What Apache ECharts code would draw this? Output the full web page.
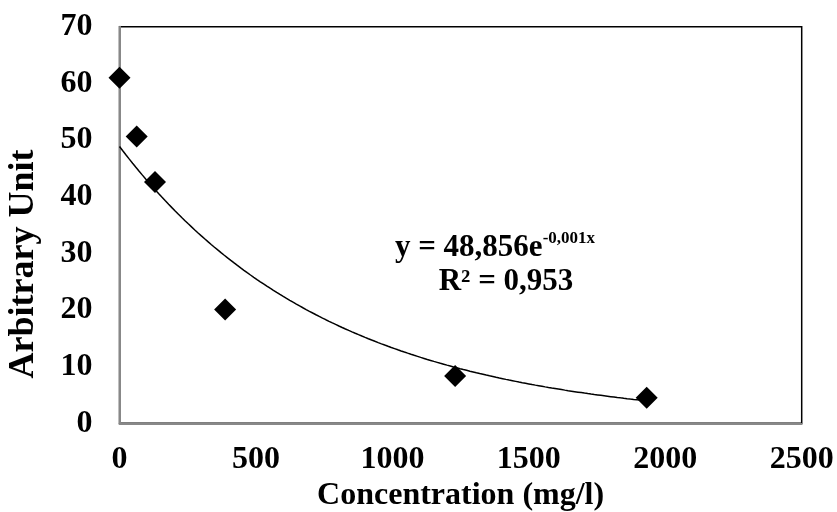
<!DOCTYPE html>
<html>
<head>
<meta charset="utf-8">
<script src="https://cdn.jsdelivr.net/npm/echarts@6/dist/echarts.min.js"></script>
<style>
  html, body { margin: 0; padding: 0; background: #fff; }
  #chart { width: 837px; height: 512px; }
</style>
</head>
<body>
<div id="chart"></div>
<script>
// Measured samples
const concentration = [0, 63, 130, 387, 1230, 1932];       // mg/l
const arbitraryUnit = [61.0, 50.6, 42.6, 20.1, 8.35, 4.5];

// Exponential trend y = A * e^(B x) and its goodness of fit
const trendA = 48.856;
const trendB = -0.0013;
const trendR2 = 0.953;

// Axis ticks
const xTicks = [0, 500, 1000, 1500, 2000, 2500];
const yTicks = [0, 10, 20, 30, 40, 50, 60, 70];

const FONT = '"Liberation Serif", "Times New Roman", serif';

// Trend curve sampled over the measured concentration range
const xMax = Math.max(...concentration);
const trendPoints = [];
for (let x = 0; x <= xMax; x += 12) {
  trendPoints.push([x, trendA * Math.exp(trendB * x)]);
}
trendPoints.push([xMax, trendA * Math.exp(trendB * xMax)]);

const fmt = (v, d) => v.toFixed(d).replace('.', ',');

const chart = echarts.init(document.getElementById('chart'), null, { renderer: 'canvas' });

chart.setOption({
  animation: false,
  backgroundColor: '#ffffff',
  grid: {
    left: 119.5, right: 35.3, top: 26.7, bottom: 88.7,
    outerBoundsMode: 'none',
    containLabel: false,
    show: true, borderColor: '#000000', borderWidth: 1.5
  },
  xAxis: {
    type: 'value',
    min: xTicks[0], max: xTicks[xTicks.length - 1],
    interval: xTicks[1] - xTicks[0],
    name: 'Concentration (mg/l)',
    nameLocation: 'middle',
    nameGap: 56,
    nameTextStyle: { fontFamily: FONT, fontWeight: 'bold', fontSize: 32, color: '#000' },
    axisLine: { show: true, onZero: false, lineStyle: { color: '#888888', width: 2 } },
    axisTick: { show: false },
    splitLine: { show: false },
    axisLabel: {
      fontFamily: FONT, fontWeight: 'bold', fontSize: 32, color: '#000', margin: 20,
      formatter: v => String(v)
    }
  },
  yAxis: {
    type: 'value',
    min: yTicks[0], max: yTicks[yTicks.length - 1],
    interval: yTicks[1] - yTicks[0],
    axisLine: { show: true, onZero: false, lineStyle: { color: '#888888', width: 2 } },
    axisTick: { show: false },
    splitLine: { show: false },
    axisLabel: {
      fontFamily: FONT, fontWeight: 'bold', fontSize: 32, color: '#000', margin: 27,
      formatter: v => String(v)
    }
  },
  graphic: [
    {
      type: 'text',
      x: 24, y: 264,
      rotation: Math.PI / 2,
      style: {
        text: 'Arbitrary Unit',
        font: 'bold 36px ' + FONT,
        fill: '#000',
        align: 'center',
        verticalAlign: 'middle'
      }
    },
    {
      type: 'text',
      x: 495, y: 248,
      style: {
        text: '{m|y = ' + fmt(trendA, 3) + 'e}{s|' + fmt(trendB, 3) + 'x}',
        align: 'center',
        verticalAlign: 'middle',
        rich: {
          m: { font: 'bold 31px ' + FONT, fill: '#000', lineHeight: 36 },
          s: { font: 'bold 17px ' + FONT, fill: '#000', verticalAlign: 'top', lineHeight: 36, padding: [0, 0, 14, 0] }
        }
      }
    },
    {
      type: 'text',
      x: 506, y: 282,
      style: {
        text: 'R² = ' + fmt(trendR2, 3),
        font: 'bold 31px ' + FONT,
        fill: '#000',
        align: 'center',
        verticalAlign: 'middle'
      }
    }
  ],
  series: [
    {
      name: 'Trend',
      type: 'line',
      data: trendPoints,
      showSymbol: false,
      symbol: 'none',
      smooth: false,
      lineStyle: { color: '#000', width: 1.5 },
      z: 2
    },
    {
      name: 'Samples',
      type: 'scatter',
      data: concentration.map((x, i) => [x, arbitraryUnit[i]]),
      symbol: 'diamond',
      symbolSize: [22, 22],
      itemStyle: { color: '#000', opacity: 1 },
      z: 3
    }
  ]
});
</script>
</body>
</html>
